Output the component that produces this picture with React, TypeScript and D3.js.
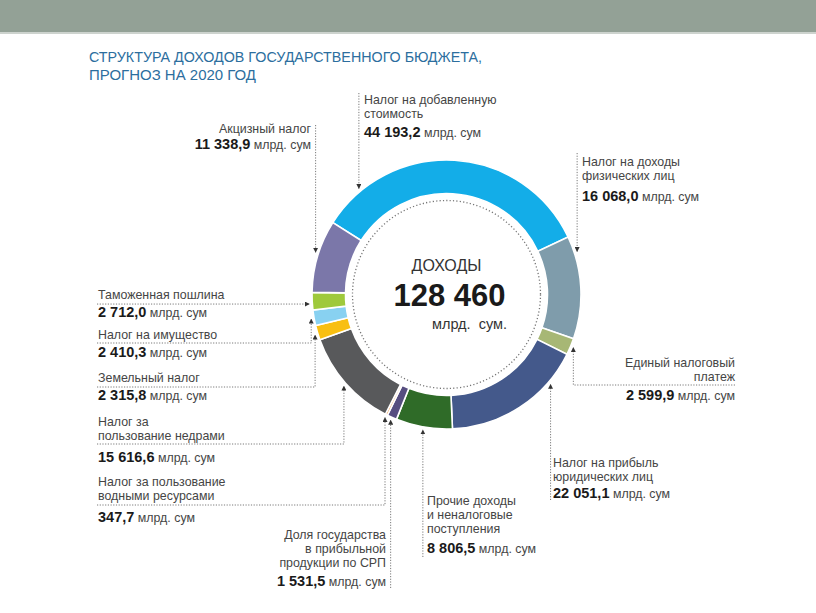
import React from 'react';
import * as d3 from 'd3';

const W = 816;
const H = 613;
const FONT = "'Liberation Sans', Arial, sans-serif";

// ---- data ----
const categories: string[][] = [
  ['Налог на добавленную', 'стоимость'],
  ['Налог на доходы', 'физических лиц'],
  ['Единый налоговый', 'платеж'],
  ['Налог на прибыль', 'юридических лиц'],
  ['Прочие доходы', 'и неналоговые', 'поступления'],
  ['Доля государства', 'в прибыльной', 'продукции по СРП'],
  ['Налог за пользование', 'водными ресурсами'],
  ['Налог за', 'пользование недрами'],
  ['Земельный налог'],
  ['Налог на имущество'],
  ['Таможенная пошлина'],
  ['Акцизный налог'],
];
const values: number[] = [44193.2, 16068.0, 2599.9, 22051.1, 8806.5, 1531.5, 347.7, 15616.6, 2315.8, 2410.3, 2712.0, 11338.9];
const colors: string[] = ['#13ade8', '#7f9cab', '#a7b775', '#44598b', '#2f6b28', '#564e80', '#f2a35c', '#58595b', '#f8bf12', '#88d1f1', '#9fc93c', '#7b77a9'];
const unit = 'млрд. сум';
const titleLines = ['СТРУКТУРА ДОХОДОВ ГОСУДАРСТВЕННОГО БЮДЖЕТА,', 'ПРОГНОЗ НА 2020 ГОД'];
const centerTitle = 'ДОХОДЫ';
const centerTotal = '128 460';
const centerUnit = 'млрд.  сум.';

// ---- layout ----
const cx = 446.5, cy = 294.5, R = 134.5, r0 = 101;
const startDeg = -57.7;
type Route = { kind: 'up' | 'down' | 'downH' | 'h'; y?: number; x?: number };
type Lay = { frac: number; x: number; anchor: 'start' | 'end'; lines: number[]; numY: number; route: Route };
const layout: Lay[] = [
  { frac: 0.148, x: 364, anchor: 'start', lines: [104, 118], numY: 137, route: { kind: 'up', y: 93 } },
  { frac: 0.16, x: 582, anchor: 'start', lines: [166, 180], numY: 201, route: { kind: 'up', y: 153 } },
  { frac: 0.49, x: 735, anchor: 'end', lines: [367, 381], numY: 400, route: { kind: 'downH', y: 385, x: 735 } },
  { frac: 0.236, x: 553, anchor: 'start', lines: [467, 481], numY: 498, route: { kind: 'down', y: 500 } },
  { frac: 0.51, x: 427, anchor: 'start', lines: [505, 519, 533], numY: 553, route: { kind: 'down', y: 557 } },
  { frac: 0.5, x: 386, anchor: 'end', lines: [539, 553, 567], numY: 586, route: { kind: 'down', y: 588 } },
  { frac: 0.5, x: 98, anchor: 'start', lines: [486, 500], numY: 522, route: { kind: 'downH', y: 505, x: 97 } },
  { frac: 0.49, x: 98, anchor: 'start', lines: [426, 440], numY: 462, route: { kind: 'downH', y: 444, x: 97 } },
  { frac: 0.4, x: 98, anchor: 'start', lines: [382], numY: 400, route: { kind: 'downH', y: 387, x: 97 } },
  { frac: 0.45, x: 98, anchor: 'start', lines: [339], numY: 357, route: { kind: 'downH', y: 343, x: 97 } },
  { frac: 0.35, x: 98, anchor: 'start', lines: [299], numY: 317, route: { kind: 'h', x: 97 } },
  { frac: 0.54, x: 311, anchor: 'end', lines: [133], numY: 149, route: { kind: 'up', y: 125 } },
];

const ru = d3.formatLocale({ decimal: ',', thousands: '\u00a0', grouping: [3], currency: ['', ''] });
const fmt = ru.format(',.1f');

export default function App() {
  const s0 = (startDeg * Math.PI) / 180;
  const pie = d3.pie<number>().sort(null).value((d) => d).startAngle(s0).endAngle(s0 + 2 * Math.PI);
  const arcs = pie(values);
  const arc = d3.arc<d3.PieArcDatum<number>>().innerRadius(r0).outerRadius(R);

  const leaders = arcs.map((a, i) => {
    const L = layout[i];
    const ang = a.startAngle + (a.endAngle - a.startAngle) * L.frac;
    const rt = R + 3;
    const tx = cx + rt * Math.sin(ang);
    const ty = cy - rt * Math.cos(ang);
    const p = d3.path();
    const ro = L.route;
    if (ro.kind === 'up' || ro.kind === 'down') {
      p.moveTo(tx, ro.y!);
      p.lineTo(tx, ty);
    } else if (ro.kind === 'downH') {
      p.moveTo(ro.x!, ro.y!);
      p.lineTo(tx, ro.y!);
      p.lineTo(tx, ty);
    } else {
      p.moveTo(ro.x!, ty);
      p.lineTo(tx, ty);
    }
    return p.toString();
  });

  return (
    <svg width={W} height={H} style={{ position: 'absolute', left: 0, top: 0, background: '#fff' }} fontFamily={FONT}>
      <defs>
        <marker id="arr" viewBox="0 0 10 10" refX="9" refY="5" markerWidth="5" markerHeight="5" orient="auto" markerUnits="userSpaceOnUse">
          <path d="M0,0 L10,5 L0,10 z" fill="#333" />
        </marker>
      </defs>
      <rect x={0} y={0} width={W} height={32} fill="#93a196" />
      <rect x={0} y={32} width={W} height={2} fill="#cdd3ce" />
      {titleLines.map((t, i) => (
        <text key={i} x={89} y={62 + i * 18} fontSize={15} fill="#2c6e9e"
          textLength={i === 0 ? 393 : 167} lengthAdjust="spacingAndGlyphs">{t}</text>
      ))}

      <g transform={`translate(${cx},${cy})`}>
        {arcs.map((a, i) => (
          <path key={i} d={arc(a) || ''} fill={colors[i]} stroke="#fff" strokeWidth={1.6} />
        ))}
        <circle r={94} fill="none" stroke="#777" strokeWidth={1.3} strokeDasharray="1.2 2.2" />
      </g>

      {leaders.map((d, i) => (
        <path key={i} d={d} fill="none" stroke="#7a7a7a" strokeWidth={1} strokeDasharray="1.2 1.5" markerEnd="url(#arr)" />
      ))}

      {categories.map((lines, i) => {
        const L = layout[i];
        return (
          <g key={i} textAnchor={L.anchor}>
            {lines.map((ln, j) => (
              <text key={j} x={L.x} y={L.lines[j]} fontSize={12.4} fill="#454545">{ln}</text>
            ))}
            <text x={L.x} y={L.numY} fontSize={14.5} fontWeight="bold" fill="#1a1a1a">
              {fmt(values[i])}
              <tspan fontWeight="normal" fontSize={12.4} fill="#454545">{' ' + unit}</tspan>
            </text>
          </g>
        );
      })}

      <text x={cx} y={271} textAnchor="middle" fontSize={16} fill="#333">{centerTitle}</text>
      <text x={cx + 3} y={306} textAnchor="middle" fontSize={31} fontWeight="bold" fill="#1a1a1a">{centerTotal}</text>
      <text x={507} y={329} textAnchor="end" fontSize={14.5} fill="#333" style={{ whiteSpace: 'pre' }}>{centerUnit}</text>
    </svg>
  );
}
